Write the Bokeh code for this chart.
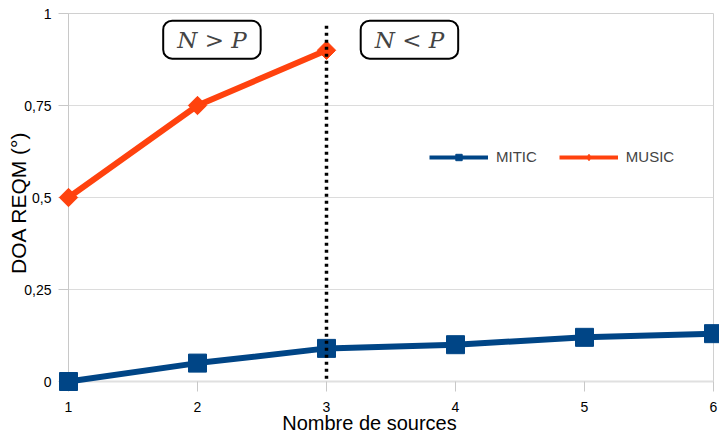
import math
from bokeh.plotting import figure
from bokeh.models import Range1d, Label, Legend, LegendItem
from bokeh.core.properties import value
from bokeh.embed import file_html
from bokeh.resources import INLINE

# ---- data ----
sources = [1, 2, 3, 4, 5, 6]
mitic = [0.0, 0.05, 0.09, 0.10, 0.12, 0.13]
music_sources = [1, 2, 3]
music = [0.50, 0.75, 0.90]
x_ticks = [1, 2, 3, 4, 5, 6]
y_ticks = [0, 0.25, 0.5, 0.75, 1]
y_tick_labels = ["0", "0,25", "0,5", "0,75", "1"]
boundary_x = 3
boundary_top = 0.967

MITIC_C = "#004586"
MUSIC_C = "#ff420e"
FONT = "Liberation Sans"
NAN = float("nan")

p = figure(width=719, height=433, x_range=Range1d(1, 6), y_range=Range1d(0, 1),
           output_backend="svg", toolbar_location=None, title=None,
           min_border_left=68, min_border_right=6, min_border_top=13, min_border_bottom=52)
p.outline_line_color = "#d0d0d0"
p.background_fill_color = "white"

p.xgrid.visible = False
p.ygrid.ticker = y_ticks
p.ygrid.grid_line_color = "#dcdcdc"

p.xaxis.ticker = x_ticks
p.yaxis.ticker = y_ticks
p.yaxis.major_label_overrides = dict(zip(y_ticks, y_tick_labels))
for ax in (p.xaxis, p.yaxis):
    ax.major_tick_out = 10
    ax.major_tick_in = 0
    ax.minor_tick_line_color = None
    ax.major_tick_line_color = "#c8c8c8"
    ax.axis_line_color = "#c8c8c8"
    ax.major_label_text_font = FONT
    ax.major_label_text_font_size = "14px"
    ax.major_label_text_color = "black"
p.xaxis.axis_line_color = "#e0e0e0"
p.xaxis.axis_line_width = 2
p.yaxis.major_label_standoff = 7
p.xaxis.major_label_standoff = 10

# ---- series ----
p.line(sources, mitic, line_color=MITIC_C, line_width=6, level="overlay")
p.scatter(sources, mitic, marker="square", size=18, color=MITIC_C, level="overlay")
p.line(music_sources, music, line_color=MUSIC_C, line_width=6, level="overlay")
p.scatter(music_sources, music, marker="square", angle=math.pi / 4, size=13,
          color=MUSIC_C, level="overlay")

# boundary N = P
p.segment(x0=[boundary_x], y0=[boundary_top], x1=[boundary_x], y1=[0],
          line_color="black", line_width=3.5, line_dash="3 4", level="overlay")

# ---- legend (proxy renderers, nothing drawn in the plot) ----
lm_line = p.line([NAN], [NAN], line_color=MITIC_C, line_width=4)
lm_pt = p.scatter([NAN], [NAN], marker="square", size=9, color=MITIC_C)
lu_line = p.line([NAN], [NAN], line_color=MUSIC_C, line_width=4)
lu_pt = p.scatter([NAN], [NAN], marker="diamond", size=10, color=MUSIC_C)
legend = Legend(items=[LegendItem(label="MITIC", renderers=[lm_line, lm_pt]),
                       LegendItem(label="MUSIC", renderers=[lu_line, lu_pt])],
                location=(361, 216), orientation="horizontal",
                glyph_width=59, glyph_height=16, label_height=16, label_standoff=8,
                spacing=22, padding=0, margin=0,
                label_text_font=FONT, label_text_font_size="15px",
                background_fill_alpha=0, border_line_alpha=0)
p.add_layout(legend)

# ---- region labels ----
for txt, xc in (("N > P", 2.112), ("N < P", 3.643)):
    p.add_layout(Label(x=xc, y=0.929, text=txt, text_font="DejaVu Serif",
                       text_font_style="italic", text_font_size="23px",
                       text_align="center", text_baseline="middle",
                       border_line_color="black", border_line_width=2,
                       background_fill_color="white", border_radius=9,
                       padding=dict(left=14, right=14, top=6, bottom=6)))

# ---- axis titles ----
p.text(x=[3.333], y=[-0.112], text=["Nombre de sources"], text_font=value(FONT),
       text_font_size="20px", text_align="center", text_baseline="middle",
       text_color="black", level="overlay")
p.text(x=[0.609], y=[0.486], text=["DOA REQM (°)"], text_font=value(FONT),
       angle=math.pi / 2, text_font_size="21px", text_align="center",
       text_baseline="middle", text_color="black", level="overlay")

open("out.html", "w").write(file_html(p, INLINE))
